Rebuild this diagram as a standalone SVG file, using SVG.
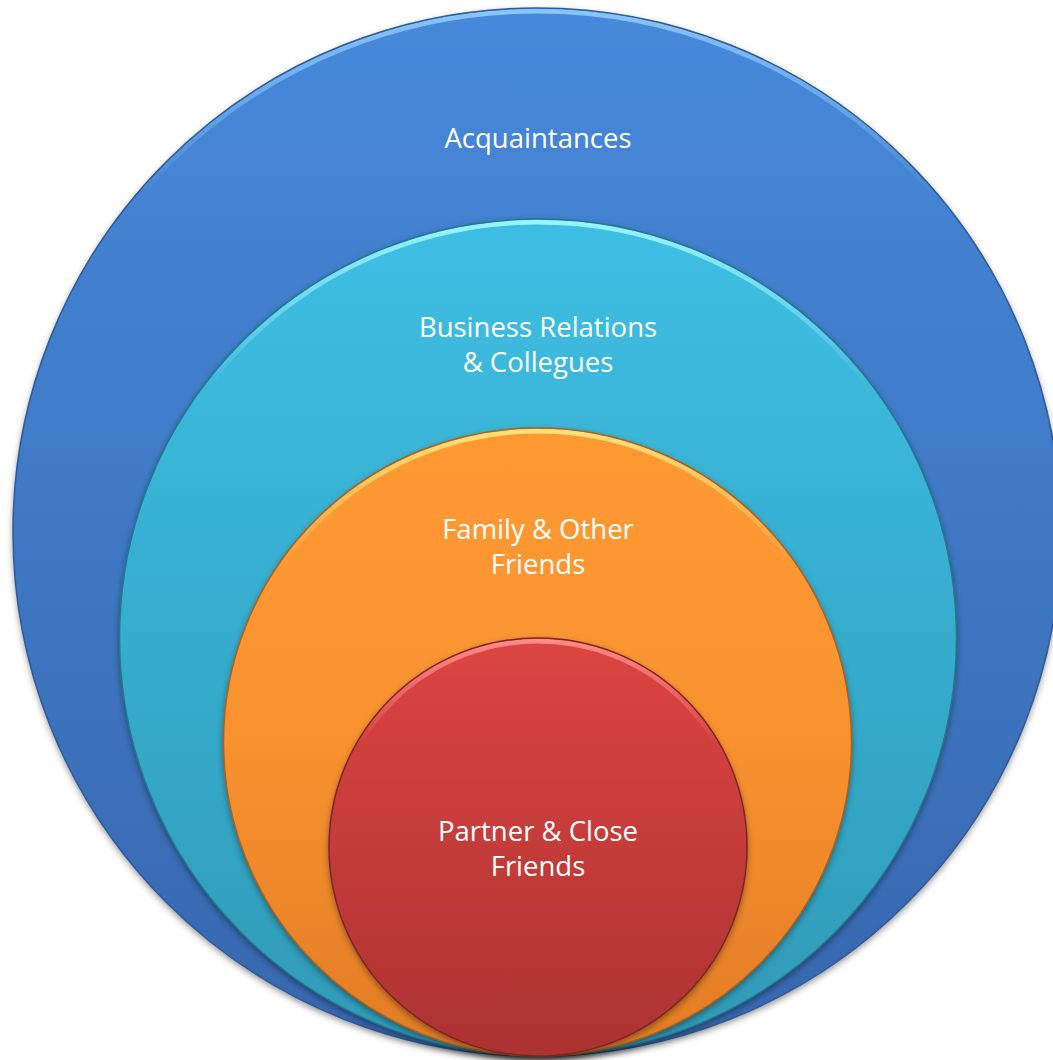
<svg xmlns="http://www.w3.org/2000/svg" width="1053" height="1060" viewBox="0 0 1053 1060">
  <defs>
    <style>
      .label { font-family: "Open Sans", "Liberation Sans", sans-serif; font-size: 27.5px; fill: #ffffff; text-anchor: middle; }
      .edge { fill: none; stroke-width: 1.5; }
      .rim { fill: none; stroke-width: 5; }
    </style>
    <filter id="shadow" x="-10%" y="-10%" width="120%" height="125%">
      <feDropShadow dx="0" dy="3" stdDeviation="3.5" flood-color="#000" flood-opacity="0.45"/>
    </filter>
    <linearGradient id="gBlue" x1="0" y1="0" x2="0" y2="1">
      <stop offset="0" stop-color="#4689DA"/>
      <stop offset="1" stop-color="#3767AE"/>
    </linearGradient>
    <linearGradient id="gCyan" x1="0" y1="0" x2="0" y2="1">
      <stop offset="0" stop-color="#3EBFE4"/>
      <stop offset="1" stop-color="#2F9AB6"/>
    </linearGradient>
    <linearGradient id="gOrange" x1="0" y1="0" x2="0" y2="1">
      <stop offset="0" stop-color="#FF9A33"/>
      <stop offset="0.5" stop-color="#F8922F"/>
      <stop offset="1" stop-color="#E27C26"/>
    </linearGradient>
    <linearGradient id="gRed" x1="0" y1="0" x2="0" y2="1">
      <stop offset="0" stop-color="#DC4541"/>
      <stop offset="1" stop-color="#AC3232"/>
    </linearGradient>
    <!-- top bevel highlights, fading out towards the middle -->
    <linearGradient id="rBlue" x1="0" y1="0" x2="0" y2="1">
      <stop offset="0" stop-color="#8CC8FF" stop-opacity="0.95"/>
      <stop offset="0.18" stop-color="#8CC8FF" stop-opacity="0"/>
    </linearGradient>
    <linearGradient id="rCyan" x1="0" y1="0" x2="0" y2="1">
      <stop offset="0" stop-color="#9AF2FF" stop-opacity="1"/>
      <stop offset="0.2" stop-color="#9AF2FF" stop-opacity="0"/>
    </linearGradient>
    <linearGradient id="rOrange" x1="0" y1="0" x2="0" y2="1">
      <stop offset="0" stop-color="#FFE07A" stop-opacity="1"/>
      <stop offset="0.22" stop-color="#FFE07A" stop-opacity="0"/>
    </linearGradient>
    <linearGradient id="rRed" x1="0" y1="0" x2="0" y2="1">
      <stop offset="0" stop-color="#FF8A86" stop-opacity="1"/>
      <stop offset="0.25" stop-color="#FF8A86" stop-opacity="0"/>
    </linearGradient>
  </defs>

  <rect width="1053" height="1060" fill="#ffffff"/>

  <g id="acquaintances">
    <circle cx="537" cy="532" r="524" fill="url(#gBlue)" filter="url(#shadow)"/>
    <circle cx="537" cy="532" r="521" class="rim" stroke="url(#rBlue)"/>
    <circle cx="537" cy="532" r="524" class="edge" stroke="#2E5A99"/>
    <text class="label" x="538" y="148">Acquaintances</text>
  </g>

  <g id="business">
    <circle cx="538" cy="637.5" r="418.5" fill="url(#gCyan)" filter="url(#shadow)"/>
    <circle cx="538" cy="637.5" r="415.5" class="rim" stroke="url(#rCyan)"/>
    <circle cx="538" cy="637.5" r="418.5" class="edge" stroke="#22788F"/>
    <text class="label" x="538" y="337">Business Relations</text>
    <text class="label" x="538" y="372">&amp; Collegues</text>
  </g>

  <g id="family">
    <circle cx="537.5" cy="742" r="314" fill="url(#gOrange)" filter="url(#shadow)"/>
    <circle cx="537.5" cy="742" r="311" class="rim" stroke="url(#rOrange)"/>
    <circle cx="537.5" cy="742" r="314" class="edge" stroke="#B0601C"/>
    <text class="label" x="538" y="539">Family &amp; Other</text>
    <text class="label" x="538" y="574">Friends</text>
  </g>

  <g id="partner">
    <circle cx="538" cy="847" r="209" fill="url(#gRed)" filter="url(#shadow)"/>
    <circle cx="538" cy="847" r="206" class="rim" stroke="url(#rRed)"/>
    <circle cx="538" cy="847" r="209" class="edge" stroke="#7E2428"/>
    <text class="label" x="538" y="841">Partner &amp; Close</text>
    <text class="label" x="538" y="876">Friends</text>
  </g>

  <g id="connectors"/>
</svg>
